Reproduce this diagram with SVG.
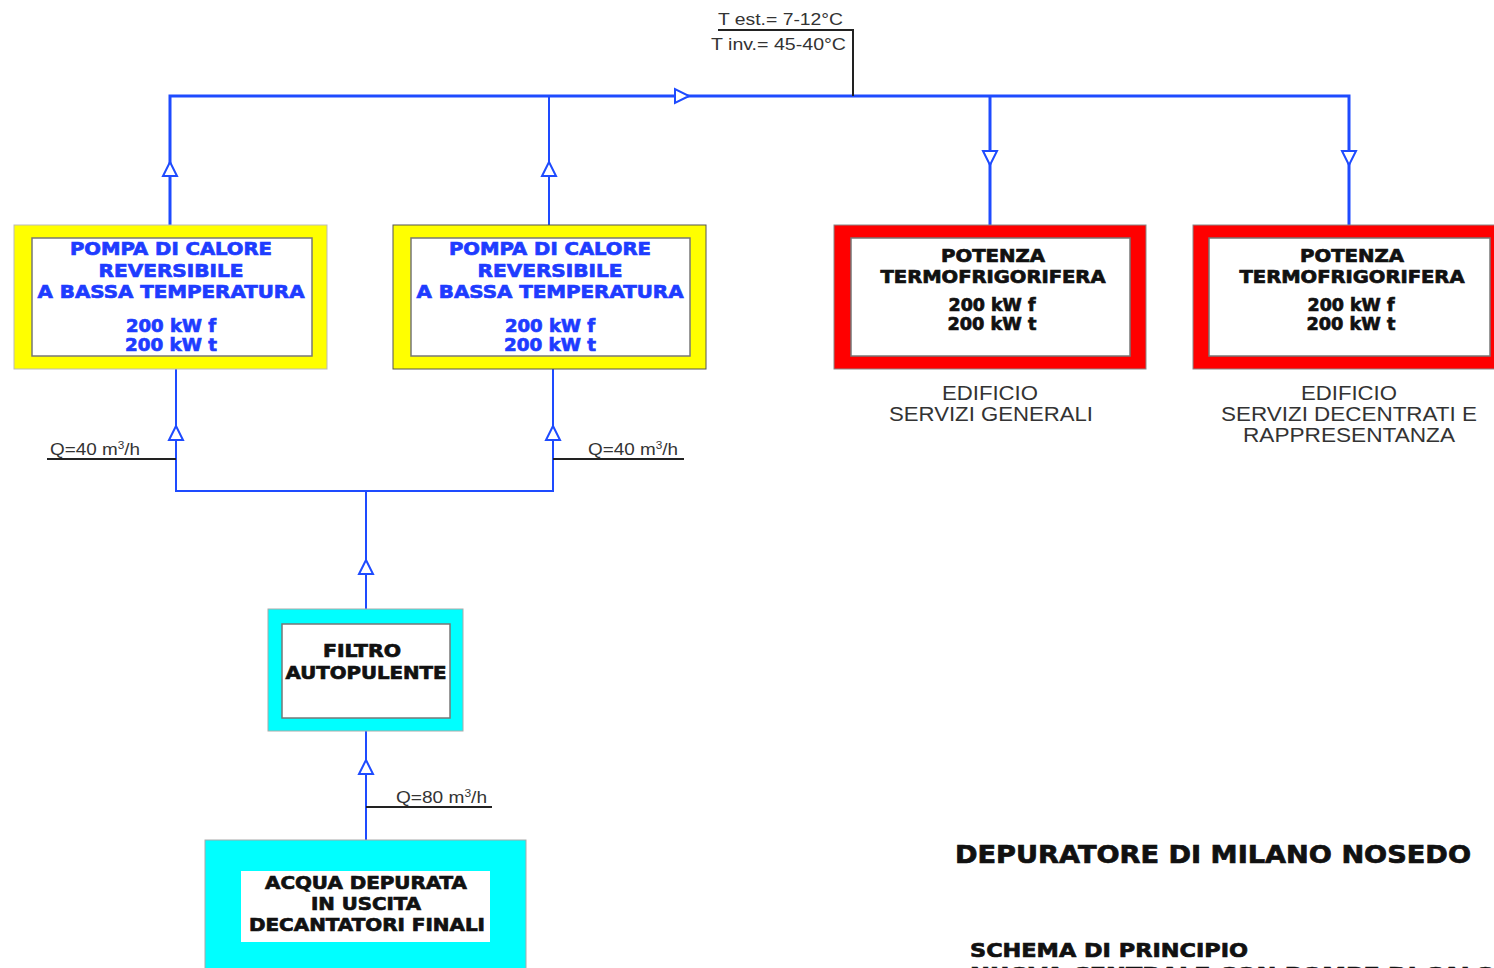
<svg xmlns="http://www.w3.org/2000/svg" width="1494" height="968" viewBox="0 0 1494 968">
<style>
.pipe{stroke:#1e4bff;fill:none;stroke-width:3}
.pipe2{stroke:#1e4bff;fill:none;stroke-width:2}
.blk{stroke:#222;fill:none;stroke-width:2}
.inner{fill:#fff;stroke:#777;stroke-width:1.5}
.bt{font-family:"DejaVu Sans","Liberation Sans",sans-serif;font-weight:bold;text-anchor:middle;font-size:17px;stroke-width:0.7}
.blue{fill:#1e3cff;stroke:#1e3cff}
.black{fill:#111;stroke:#111}
.lbl{font-family:"Liberation Sans",Arial,sans-serif;fill:#333;text-anchor:middle;font-size:20px}
.q{font-family:"Liberation Sans",Arial,sans-serif;fill:#333;font-size:16px}
.title{font-family:"DejaVu Sans","Liberation Sans",sans-serif;font-weight:bold;fill:#111;stroke:#111;stroke-width:0.7}
</style>
<defs>
<path id="tri" d="M0,-7 L7,7 L-7,7 Z" fill="#fff" stroke="#1e4bff" stroke-width="2"/>
</defs>
<rect width="1494" height="968" fill="#fff"/>

<g id="connectors">
<path class="pipe" d="M170,225 V96 H1349 V225"/>
<path class="pipe2" d="M549,225 V96"/>
<path class="pipe" d="M990,96 V225"/>
<path class="pipe2" d="M176,369 V491 H553 V369"/>
<path class="pipe2" d="M366,491 V609"/>
<path class="pipe2" d="M366,731 V840"/>
<path class="blk" d="M718,30 H853 V96"/>
<path class="blk" d="M47,459 H176"/>
<path class="blk" d="M553,459 H684"/>
<path class="blk" d="M366,807 H492"/>
<use href="#tri" transform="translate(170,169)"/>
<use href="#tri" transform="translate(549,169)"/>
<use href="#tri" transform="translate(682,96) rotate(90)"/>
<use href="#tri" transform="translate(990,158) rotate(180)"/>
<use href="#tri" transform="translate(1349,158) rotate(180)"/>
<use href="#tri" transform="translate(176,433)"/>
<use href="#tri" transform="translate(553,433)"/>
<use href="#tri" transform="translate(366,567)"/>
<use href="#tri" transform="translate(366,767)"/>
</g>

<g id="temp-label">
<text class="q" x="718" y="25" font-size="17" textLength="125" lengthAdjust="spacingAndGlyphs">T est.= 7-12°C</text>
<text class="q" x="711" y="50" font-size="17" textLength="135" lengthAdjust="spacingAndGlyphs">T inv.= 45-40°C</text>
</g>

<g id="pompa1">
<rect x="14" y="225" width="313" height="144" fill="#ffff00" stroke="#bbb" stroke-width="1"/>
<rect class="inner" x="32" y="238" width="280" height="118"/>
<text class="bt blue" x="171" y="255" textLength="202" lengthAdjust="spacingAndGlyphs">POMPA DI CALORE</text>
<text class="bt blue" x="171" y="277" textLength="145" lengthAdjust="spacingAndGlyphs">REVERSIBILE</text>
<text class="bt blue" x="171" y="298" textLength="267" lengthAdjust="spacingAndGlyphs">A BASSA TEMPERATURA</text>
<text class="bt blue" x="171" y="332" textLength="90" lengthAdjust="spacingAndGlyphs">200 kW f</text>
<text class="bt blue" x="171" y="351" textLength="92" lengthAdjust="spacingAndGlyphs">200 kW t</text>
</g>

<g id="pompa2">
<rect x="393" y="225" width="313" height="144" fill="#ffff00" stroke="#555" stroke-width="1"/>
<rect class="inner" x="411" y="238" width="279" height="118"/>
<text class="bt blue" x="550" y="255" textLength="202" lengthAdjust="spacingAndGlyphs">POMPA DI CALORE</text>
<text class="bt blue" x="550" y="277" textLength="145" lengthAdjust="spacingAndGlyphs">REVERSIBILE</text>
<text class="bt blue" x="550" y="298" textLength="267" lengthAdjust="spacingAndGlyphs">A BASSA TEMPERATURA</text>
<text class="bt blue" x="550" y="332" textLength="90" lengthAdjust="spacingAndGlyphs">200 kW f</text>
<text class="bt blue" x="550" y="351" textLength="92" lengthAdjust="spacingAndGlyphs">200 kW t</text>
</g>

<g id="potenza1">
<rect x="834" y="225" width="312" height="144" fill="#ff0000" stroke="#888" stroke-width="1"/>
<rect class="inner" x="851" y="238" width="279" height="118"/>
<text class="bt black" x="993" y="262" textLength="104" lengthAdjust="spacingAndGlyphs">POTENZA</text>
<text class="bt black" x="993" y="283" textLength="225" lengthAdjust="spacingAndGlyphs">TERMOFRIGORIFERA</text>
<text class="bt black" x="992" y="311" textLength="87" lengthAdjust="spacingAndGlyphs">200 kW f</text>
<text class="bt black" x="992" y="330" textLength="89" lengthAdjust="spacingAndGlyphs">200 kW t</text>
<text class="lbl" x="990" y="400" textLength="96" lengthAdjust="spacingAndGlyphs">EDIFICIO</text>
<text class="lbl" x="991" y="421" textLength="204" lengthAdjust="spacingAndGlyphs">SERVIZI GENERALI</text>
</g>

<g id="potenza2">
<rect x="1193" y="225" width="305" height="144" fill="#ff0000" stroke="#888" stroke-width="1"/>
<rect class="inner" x="1209" y="238" width="281" height="118"/>
<text class="bt black" x="1352" y="262" textLength="104" lengthAdjust="spacingAndGlyphs">POTENZA</text>
<text class="bt black" x="1352" y="283" textLength="225" lengthAdjust="spacingAndGlyphs">TERMOFRIGORIFERA</text>
<text class="bt black" x="1351" y="311" textLength="87" lengthAdjust="spacingAndGlyphs">200 kW f</text>
<text class="bt black" x="1351" y="330" textLength="89" lengthAdjust="spacingAndGlyphs">200 kW t</text>
<text class="lbl" x="1349" y="400" textLength="96" lengthAdjust="spacingAndGlyphs">EDIFICIO</text>
<text class="lbl" x="1349" y="421" textLength="256" lengthAdjust="spacingAndGlyphs">SERVIZI DECENTRATI E</text>
<text class="lbl" x="1349" y="442" textLength="212" lengthAdjust="spacingAndGlyphs">RAPPRESENTANZA</text>
</g>

<g id="portate">
<text class="q" x="50" y="455" textLength="90" lengthAdjust="spacingAndGlyphs">Q=40 m<tspan dy="-6" font-size="10">3</tspan><tspan dy="6">/h</tspan></text>
<text class="q" x="588" y="455" textLength="90" lengthAdjust="spacingAndGlyphs">Q=40 m<tspan dy="-6" font-size="10">3</tspan><tspan dy="6">/h</tspan></text>
<text class="q" x="396" y="803" textLength="91" lengthAdjust="spacingAndGlyphs">Q=80 m<tspan dy="-6" font-size="10">3</tspan><tspan dy="6">/h</tspan></text>
</g>

<g id="filtro">
<rect x="268" y="609" width="195" height="122" fill="#00ffff" stroke="#aaa" stroke-width="1"/>
<rect class="inner" x="282" y="624" width="168" height="94"/>
<text class="bt black" x="362" y="657" textLength="78" lengthAdjust="spacingAndGlyphs">FILTRO</text>
<text class="bt black" x="366" y="679" textLength="161" lengthAdjust="spacingAndGlyphs">AUTOPULENTE</text>
</g>

<g id="acqua">
<rect x="205" y="840" width="321" height="140" fill="#00ffff" stroke="#aaa" stroke-width="1"/>
<rect x="241" y="871" width="249" height="71" fill="#fff"/>
<text class="bt black" x="366" y="889" textLength="202" lengthAdjust="spacingAndGlyphs">ACQUA DEPURATA</text>
<text class="bt black" x="366" y="910" textLength="110" lengthAdjust="spacingAndGlyphs">IN USCITA</text>
<text class="bt black" x="367" y="931" textLength="236" lengthAdjust="spacingAndGlyphs">DECANTATORI FINALI</text>
</g>

<g id="titolo">
<text class="title" x="955" y="863" font-size="25" textLength="516" lengthAdjust="spacingAndGlyphs">DEPURATORE DI MILANO NOSEDO</text>
<text class="title" x="970" y="957" font-size="20" textLength="278" lengthAdjust="spacingAndGlyphs">SCHEMA DI PRINCIPIO</text>
<text class="title" x="970" y="981" font-size="20" textLength="560" lengthAdjust="spacingAndGlyphs">NUOVA CENTRALE CON POMPE DI CALORE</text>
</g>
</svg>
